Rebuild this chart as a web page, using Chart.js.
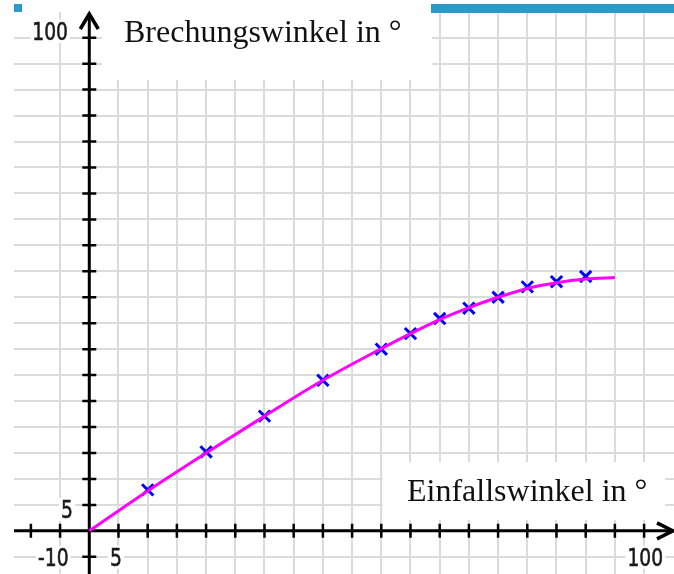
<!DOCTYPE html>
<html>
<head>
<meta charset="utf-8">
<script src="https://cdn.jsdelivr.net/npm/chart.js@4.4.1/dist/chart.umd.min.js"></script>
<style>
    body { margin: 0; background: #ffffff; }
    canvas { display: block; }
</style>
</head>
<body>
<canvas id="refraction-chart" width="674" height="574"></canvas>
<script>
const incidenceAngles = [10, 20, 30, 40, 50, 55, 60, 65, 70, 75, 80, 85]
const refractionAngles = [7.9, 15.2, 22.1, 29.0, 35.0, 38.0, 40.9, 42.9, 45.0, 47.0, 48.0, 49.0]

// Fitted curve
const curveX = [0, 10, 20, 30, 40, 50, 55, 60, 65, 70, 75, 80, 85, 90]
const curveY = [0, 7.7, 15.0, 22.1, 29.0, 35.1, 38.0, 40.7, 43.0, 45.0, 46.7, 47.8, 48.5, 48.8]

// Axis labels
const xTickValues = [-10, 5, 100]
const xTickLabels = ["-10", "5", "100"]
const yTickValues = [5, 100]
const yTickLabels = ["5", "100"]
const xTitle = "Einfallswinkel in °"
const yTitle = "Brechungswinkel in °"

const xRange = [-12.89, 100.12]
const yRange = [-8.31, 99.95]
const step = 5

const toPoints = (xs, ys) => xs.map((x, i) => ({ x: x, y: ys[i] }))

// only grid lines on multiples of 5
const gridColor = (ctx) => {
    const v = ctx.tick ? ctx.tick.value / step : 0.5
    return Math.abs(v - Math.round(v)) < 1e-6 ? "#dbdbdb" : "rgba(0,0,0,0)"
}

/* ===== Axes with arrows and ticks ===== */
const axesPlugin = {
    id: "axes",
    beforeDatasetsDraw(chart) {
        const { ctx, chartArea, scales } = chart
        const x0 = scales.x.getPixelForValue(0)
        const y0 = scales.y.getPixelForValue(0)
        ctx.save()
        ctx.strokeStyle = "#000000"
        ctx.lineWidth = 3
        ctx.beginPath()
        ctx.moveTo(chartArea.left, y0)
        ctx.lineTo(chartArea.right, y0)
        ctx.moveTo(x0, chartArea.bottom)
        ctx.lineTo(x0, chartArea.top + 1)
        ctx.stroke()

        // arrow heads
        const tipX = chartArea.right - 1
        const tipY = chartArea.top + 2
        ctx.lineWidth = 3.5
        ctx.beginPath()
        ctx.moveTo(tipX - 16, y0 - 8)
        ctx.lineTo(tipX, y0)
        ctx.lineTo(tipX - 16, y0 + 8)
        ctx.moveTo(x0 - 9, tipY + 15)
        ctx.lineTo(x0, tipY)
        ctx.lineTo(x0 + 9, tipY + 15)
        ctx.stroke()

        // ticks
        ctx.lineWidth = 2.5
        ctx.beginPath()
        for (let v = Math.ceil(xRange[0] / step) * step; v <= xRange[1] - 3; v += step) {
            if (v === 0) continue
            const px = scales.x.getPixelForValue(v)
            ctx.moveTo(px, y0 - 7)
            ctx.lineTo(px, y0 + 7)
        }
        for (let v = Math.ceil(yRange[0] / step) * step; v <= yRange[1] - 3; v += step) {
            if (v === 0) continue
            const py = scales.y.getPixelForValue(v)
            ctx.moveTo(x0 - 7, py)
            ctx.lineTo(x0 + 7, py)
        }
        ctx.stroke()
        ctx.restore()
    }
}

/* ===== Labels, title boxes and window frame ===== */
const drawNumber = (ctx, text, cx, baseline) => {
    const w = ctx.measureText(text).width * 0.78
    ctx.fillStyle = "#ffffff"
    ctx.fillRect(cx - w / 2 - 2, baseline - 20, w + 4, 23)
    ctx.save()
    ctx.translate(cx, baseline)
    ctx.scale(0.78, 1)
    ctx.fillStyle = "#1a1a1a"
    ctx.fillText(text, 0, 0)
    ctx.strokeStyle = "#1a1a1a"
    ctx.lineWidth = 0.6
    ctx.strokeText(text, 0, 0)
    ctx.restore()
}

const labelsPlugin = {
    id: "labels",
    afterDatasetsDraw(chart) {
        const { ctx, scales } = chart
        const y0 = scales.y.getPixelForValue(0)
        ctx.save()
        ctx.font = "24px 'DejaVu Sans'"
        ctx.textAlign = "center"
        ctx.textBaseline = "alphabetic"

        const xShift = [22.5, -2.5, -28]
        xTickValues.forEach((v, i) => {
            drawNumber(ctx, xTickLabels[i], scales.x.getPixelForValue(v) + xShift[i], y0 + 35)
        })
        const yShift = [13, 28]
        const yRight = [73, 68]
        yTickValues.forEach((v, i) => {
            const w = ctx.measureText(yTickLabels[i]).width * 0.78
            drawNumber(ctx, yTickLabels[i], yRight[i] - w / 2, scales.y.getPixelForValue(v) + yShift[i])
        })

        // title boxes
        ctx.fillStyle = "#ffffff"
        ctx.fillRect(102, 0, 330, 80)
        ctx.fillRect(383, 462, 282, 58)
        ctx.fillStyle = "#111111"
        ctx.font = "32px 'Liberation Serif'"
        ctx.textAlign = "left"
        ctx.fillText(yTitle, 124, 42)
        ctx.fillText(xTitle, 407, 501)

        // bits of the app window
        ctx.fillStyle = "#2b9ac9"
        ctx.fillRect(14, 4, 8, 8)
        ctx.fillRect(431, 4, 243, 9)
        ctx.restore()
    }
}

const chartCtx = document.getElementById("refraction-chart")

const refractionChart = new Chart(chartCtx, {
    type: "scatter",
    data: {
        datasets: [
            {
                label: "Kurve",
                data: toPoints(curveX, curveY),
                showLine: true,
                borderColor: "#ff00ff",
                borderWidth: 3,
                pointRadius: 0,
                cubicInterpolationMode: "monotone",
                fill: false
            },
            {
                label: "Messwerte",
                data: toPoints(incidenceAngles, refractionAngles),
                pointStyle: "crossRot",
                pointRadius: 8,
                pointBorderWidth: 3,
                borderColor: "#0000ff",
                backgroundColor: "#0000ff"
            }
        ]
    },
    options: {
        responsive: false,
        devicePixelRatio: 1,
        animation: false,
        layout: {
            autoPadding: false,
            padding: { left: 14, top: 12, right: 0, bottom: 0 }
        },
        plugins: {
            legend: { display: false },
            tooltip: { enabled: false }
        },
        scales: {
            x: {
                type: "linear",
                min: xRange[0],
                max: xRange[1],
                ticks: { display: false, stepSize: step },
                grid: { color: gridColor, lineWidth: 2, drawTicks: false },
                border: { display: false }
            },
            y: {
                type: "linear",
                min: yRange[0],
                max: yRange[1],
                ticks: { display: false, stepSize: step },
                grid: { color: gridColor, lineWidth: 2, drawTicks: false },
                border: { display: false }
            }
        }
    },
    plugins: [axesPlugin, labelsPlugin]
})
</script>
</body>
</html>
